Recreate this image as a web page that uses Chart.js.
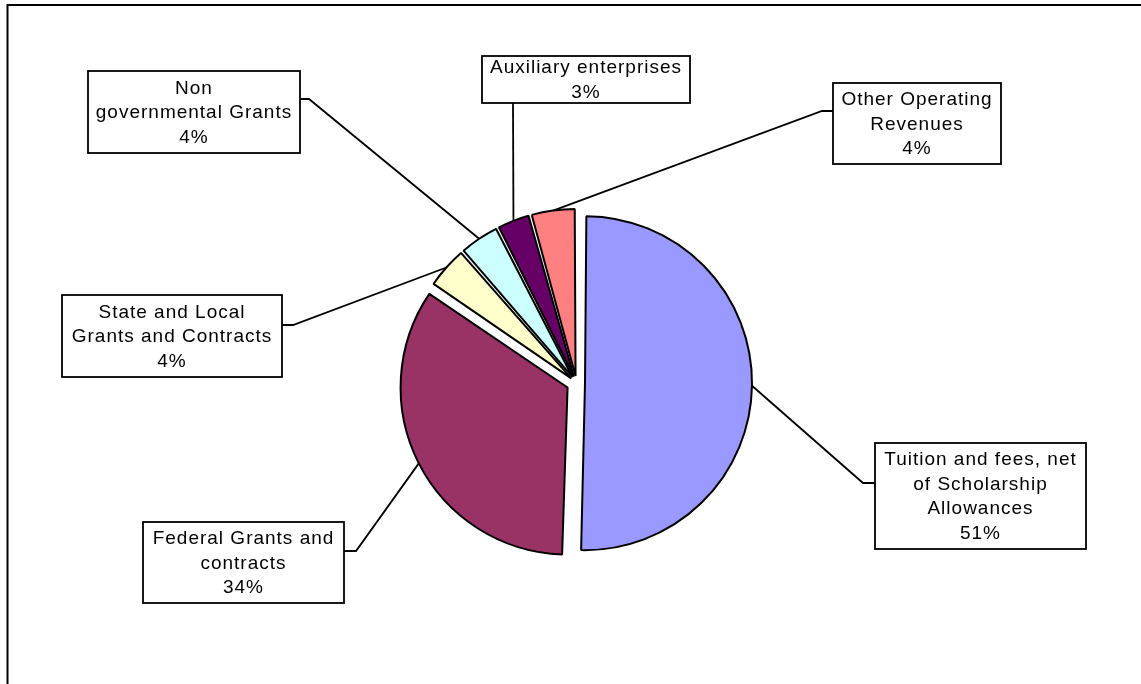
<!DOCTYPE html>
<html>
<head>
<meta charset="utf-8">
<script src="https://cdn.jsdelivr.net/npm/chart.js@4/dist/chart.umd.min.js"></script>
<style>
html,body{margin:0;padding:0;background:#fff;}
#wrap{width:1141px;height:684px;position:relative;}
</style>
</head>
<body>
<div id="wrap"><canvas id="chartRevenue"></canvas></div>
<script>
// ---- data ----
const categories=['Tuition and fees, net of Scholarship Allowances','Federal Grants and contracts','State and Local Grants and Contracts','Non governmental Grants','Auxiliary enterprises','Other Operating Revenues'];
const shares=[50.5,34,4.1,3.9,3.2,4.3];
const labelLines=[
  ['Tuition and fees, net','of Scholarship','Allowances'],
  ['Federal Grants and','contracts'],
  ['State and Local','Grants and Contracts'],
  ['Non','governmental Grants'],
  ['Auxiliary enterprises'],
  ['Other Operating','Revenues']
];

// ---- styles / label layout ----
const sliceColors=['#9999FF','#993366','#FFFFCC','#CCFFFF','#660066','#FF8080'];
const sliceOffsets=[34,40,28,28,28,28];
// box: x,y,w,h ; elbow: where the leader bends ; attach: point on the box
const labelBoxes=[
  {x:875,y:443,w:211,h:106,elbow:[863,483],attach:[875,483]},
  {x:143,y:522,w:201,h:81,elbow:[356,551],attach:[344,551]},
  {x:62,y:295,w:220,h:82,elbow:[293,325],attach:[282,325]},
  {x:88,y:71,w:212,h:82,elbow:[309,99],attach:[300,99]},
  {x:482,y:56,w:208,h:47,elbow:[513,103],attach:[513,103]},
  {x:833,y:83,w:168,h:81,elbow:[822,111],attach:[833,111]}
];

// chart.js grows exploded arcs a little; keep every slice at the same radius
const radiusFix=a=>(a.options.offset||0)/4*(1-Math.sin(Math.min(Math.PI,a.endAngle-a.startAngle)));

const framePlugin={
  id:'frame',
  beforeDraw(chart){
    const c=chart.ctx;
    c.save();
    c.strokeStyle='#000';c.lineWidth=2;
    c.strokeRect(7.5,5,1400,900);
    c.restore();
  },
  afterDatasetUpdate(chart){
    chart.getDatasetMeta(0).data.forEach(a=>{a.outerRadius-=radiusFix(a);});
  }
};

const calloutPlugin={
  id:'callouts',
  afterDatasetsDraw(chart){
    const c=chart.ctx;
    const arcs=chart.getDatasetMeta(0).data;
    c.save();
    c.strokeStyle='#000';
    c.lineWidth=1.8;
    arcs.forEach((arc,i)=>{
      const b=labelBoxes[i];
      const mid=(arc.startAngle+arc.endAngle)/2;
      const r=(arc.options.offset||0)/4+arc.outerRadius+radiusFix(arc);
      const ax=arc.x+Math.cos(mid)*r, ay=arc.y+Math.sin(mid)*r;
      c.beginPath();
      c.moveTo(ax,ay);
      c.lineTo(b.elbow[0],b.elbow[1]);
      c.lineTo(b.attach[0],b.attach[1]);
      c.stroke();
    });
    arcs.forEach((arc,i)=>{
      const b=labelBoxes[i];
      c.fillStyle='#fff';
      c.fillRect(b.x,b.y,b.w,b.h);
      c.strokeRect(b.x,b.y,b.w,b.h);
      const lines=labelLines[i].concat([Math.round(shares[i])+'%']);
      const lh=24.5;
      c.fillStyle='#000';
      c.font="19px 'Liberation Sans', Arial, sans-serif";
      if('letterSpacing' in c)c.letterSpacing='1px';
      c.textAlign='center';
      c.textBaseline='middle';
      const top=b.y+b.h/2-(lines.length-1)*lh/2;
      lines.forEach((t,k)=>c.fillText(t,b.x+b.w/2,top+k*lh+1));
    });
    c.restore();
  }
};

new Chart(document.getElementById('chartRevenue'),{
  type:'pie',
  data:{
    labels:categories,
    datasets:[{
      data:shares,
      backgroundColor:sliceColors,
      borderColor:'#000',
      borderWidth:2,
      offset:sliceOffsets
    }]
  },
  options:{
    responsive:true,
    maintainAspectRatio:false,
    animation:false,
    events:[],
    radius:167,
    layout:{padding:{left:12,right:0,top:82,bottom:0}},
    plugins:{legend:{display:false},tooltip:{enabled:false}}
  },
  plugins:[framePlugin,calloutPlugin]
});
</script>
</body>
</html>
